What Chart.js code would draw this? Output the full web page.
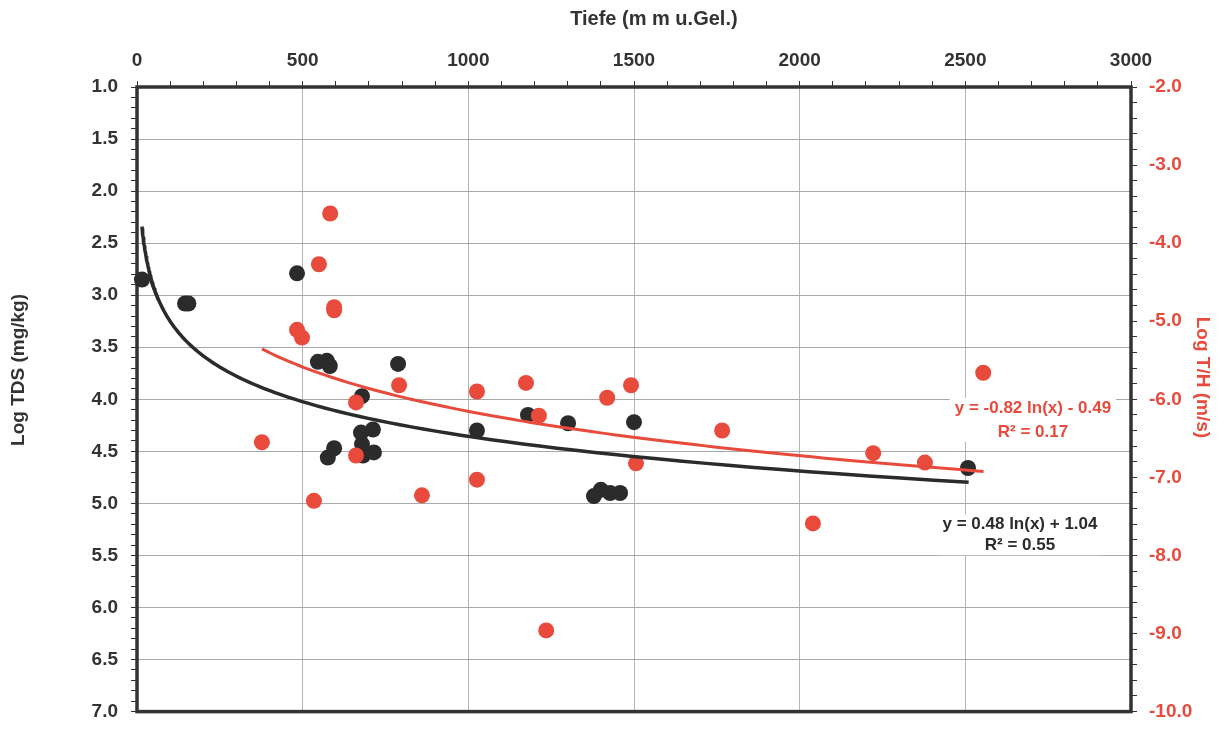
<!DOCTYPE html>
<html>
<head>
<meta charset="utf-8">
<script src="https://cdn.jsdelivr.net/npm/chart.js@4.4.1/dist/chart.umd.min.js"></script>
<style>
html,body{margin:0;padding:0;background:#fff;}
#wrap{width:1221px;height:736px;}
</style>
</head>
<body>
<div id="wrap"><canvas id="c" width="1221" height="736"></canvas></div>
<script>
// ---- data ----
const tdsDepth = [15,145,155,483,546,573,582,788,679,712,676,595,576,679,682,715,1026,1180,1301,1500,1379,1400,1428,1458,2508];
const tdsLog   = [2.85,3.08,3.08,2.79,3.64,3.63,3.68,3.66,3.97,4.29,4.32,4.47,4.56,4.43,4.54,4.51,4.30,4.15,4.23,4.22,4.93,4.87,4.90,4.90,4.66];

const thDepth = [377,483,498,534,549,583,595,595,661,661,791,860,1026,1026,1174,1213,1235,1419,1491,1506,1766,2040,2222,2378,2554];
const thLog   = [-6.55,-5.11,-5.21,-7.30,-4.27,-3.62,-4.82,-4.86,-6.04,-6.72,-5.82,-7.23,-5.90,-7.03,-5.79,-6.21,-8.96,-5.98,-5.82,-6.82,-6.40,-7.59,-6.69,-6.81,-5.66];

// trend lines as displayed on the chart: y = a ln(x) + b
const tdsFit = {a: 0.48, b: 1.04, from: 15, to: 2510, label: 'y = 0.48 ln(x) + 1.04', r2: 'R\u00B2 = 0.55'};
const thFit  = {a: -0.82, b: -0.49, from: 377, to: 2555, label: 'y = -0.82 ln(x) - 0.49', r2: 'R\u00B2 = 0.17'};

const xTitle = 'Tiefe (m m u.Gel.)';
const yTitle = 'Log TDS (mg/kg)';
const y2Title = 'Log T/H (m/s)';

const BLACK = '#2b2b2b';
const RED = '#e84a3c';

function fitPoints(f){
  const pts = [];
  const n = 120;
  const l0 = Math.log(f.from), l1 = Math.log(f.to);
  for(let i=0;i<=n;i++){
    const x = Math.exp(l0 + (l1-l0)*i/n);
    pts.push({x:x, y:f.a*Math.log(x)+f.b});
  }
  return pts;
}
const zip = (xs, ys) => xs.map((x,i)=>({x:x, y:ys[i]}));

const tickFont = {family:"'Liberation Sans', Arial, sans-serif", size:19, weight:'bold'};

const frame = {
  id:'frame',
  beforeDatasetsDraw(chart){
    const {ctx, chartArea:a} = chart;
    ctx.save();
    ctx.strokeStyle = '#333';
    ctx.lineWidth = 3.5;
    ctx.strokeRect(a.left, a.top, a.right-a.left, a.bottom-a.top);
    ctx.restore();
  },
  afterDraw(chart){
    const {ctx, chartArea:a} = chart;
    ctx.save();
    // axis titles
    ctx.textAlign = 'center';
    ctx.textBaseline = 'middle';
    ctx.fillStyle = '#333';
    ctx.font = "bold 20px 'Liberation Sans', Arial, sans-serif";
    ctx.fillText(xTitle, a.left + (a.right-a.left)*0.52, 19);
    ctx.save();
    ctx.translate(19, a.top + (a.bottom-a.top)*0.453);
    ctx.rotate(-Math.PI/2);
    ctx.font = "bold 19px 'Liberation Sans', Arial, sans-serif";
    ctx.fillText(yTitle, 0, 0);
    ctx.restore();
    ctx.save();
    ctx.translate(1202, a.top + (a.bottom-a.top)*0.465);
    ctx.rotate(Math.PI/2);
    ctx.fillStyle = RED;
    ctx.font = "bold 19px 'Liberation Sans', Arial, sans-serif";
    ctx.fillText(y2Title, 0, 0);
    ctx.restore();

    // equations
    const xs = chart.scales.x, ys = chart.scales.y, y2s = chart.scales.y2;
    ctx.font = "bold 17px 'Liberation Sans', Arial, sans-serif";
    function label(f, cx, cy, color, gap){
      const w = Math.max(ctx.measureText(f.label).width, ctx.measureText(f.r2).width);
      ctx.fillStyle = '#fff';
      ctx.fillRect(cx - w/2 - 5, cy - 10, w + 10, gap + 20);
      ctx.fillStyle = color;
      ctx.fillText(f.label, cx, cy);
      ctx.fillText(f.r2, cx, cy + gap);
    }
    label(thFit, xs.getPixelForValue(2704), y2s.getPixelForValue(-6.11), RED, 24);
    label(tdsFit, xs.getPixelForValue(2665), ys.getPixelForValue(5.2), BLACK, 21);
    ctx.restore();
  }
};

new Chart(document.getElementById('c'), {
  type: 'scatter',
  data: {
    datasets: [
      {type:'line', data: fitPoints(thFit), yAxisID:'y2', borderColor: RED, borderWidth: 3, pointRadius: 0, fill:false, tension:0, order:0},
      {type:'line', data: fitPoints(tdsFit), yAxisID:'y', borderColor: BLACK, borderWidth: 3.5, pointRadius: 0, fill:false, tension:0, order:1},
      {data: zip(thDepth, thLog), yAxisID:'y2', backgroundColor: RED, borderColor: RED, pointRadius: 8, borderWidth: 0, clip:false, order:2},
      {data: zip(tdsDepth, tdsLog), yAxisID:'y', backgroundColor: BLACK, borderColor: BLACK, pointRadius: 8, borderWidth: 0, clip:false, order:3}
    ]
  },
  options: {
    responsive: false,
    animation: false,
    events: [],
    layout: {padding: {top:0, left:0, right:0, bottom:14}},
    plugins: {legend:{display:false}, tooltip:{enabled:false}},
    scales: {
      x: {
        type:'linear', position:'top', min:0, max:3000,
        afterFit(s){ s.height = 87; },
        border:{display:false},
        grid:{
          color: c => (c.tick && Math.round(c.tick.value) % 500 === 0) ? '#b5b5b5' : 'rgba(0,0,0,0)',
          lineWidth: 1, tickColor:'#333', tickLength:6, tickWidth:1
        },
        ticks:{
          stepSize:100, maxTicksLimit:1000, autoSkip:false, maxRotation:0, padding:9,
          color:'#333', font: tickFont,
          callback: v => (Math.round(v) % 500 === 0) ? String(Math.round(v)) : ''
        }
      },
      y: {
        type:'linear', position:'left', min:1, max:7, reverse:true,
        afterFit(s){ s.width = 137; },
        border:{display:false},
        grid:{
          color: c => (c.tick && Math.abs(c.tick.value*2 - Math.round(c.tick.value*2)) < 1e-6) ? '#a8a8a8' : 'rgba(0,0,0,0)',
          lineWidth: 1, tickColor:'#333', tickLength:6, tickWidth:1
        },
        ticks:{
          stepSize:0.1, maxTicksLimit:1000, autoSkip:false, padding:13,
          color:'#333', font: tickFont,
          callback: v => (Math.abs(v*2 - Math.round(v*2)) < 1e-6) ? v.toFixed(1) : ''
        }
      },
      y2: {
        type:'linear', position:'right', min:-10, max:-2,
        afterFit(s){ s.width = 90; },
        border:{display:false},
        grid:{ drawOnChartArea:false, color:'#333', tickColor:'#333', tickLength:6, tickWidth:1 },
        ticks:{
          stepSize:0.2, maxTicksLimit:1000, autoSkip:false, padding:12,
          color: RED, font: tickFont,
          callback: v => (Math.abs(v - Math.round(v)) < 1e-6) ? v.toFixed(1) : ''
        }
      }
    }
  },
  plugins:[frame]
});
</script>
</body>
</html>
